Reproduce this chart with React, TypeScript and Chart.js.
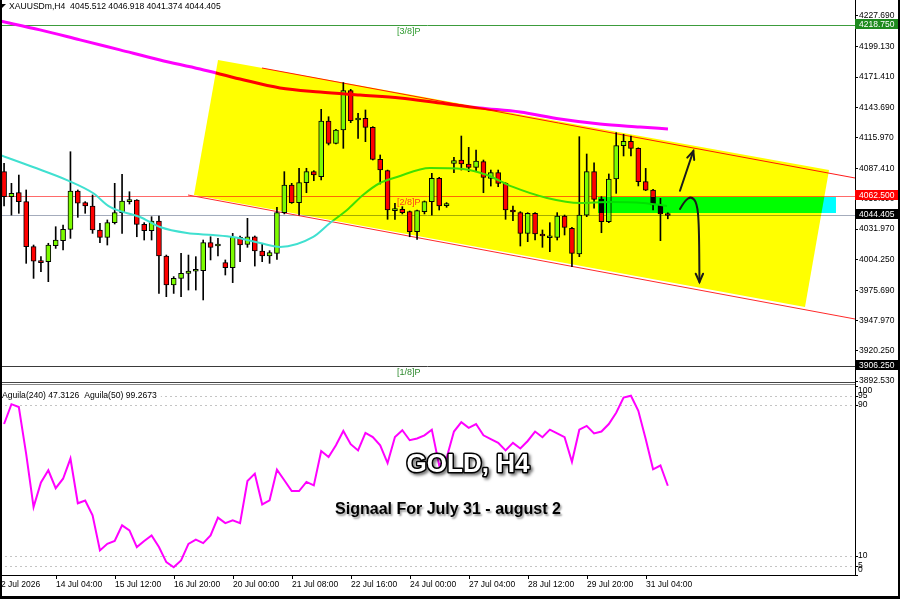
import React, { useEffect, useRef } from "react";
import { Chart, registerables } from "chart.js";

Chart.register(...registerables);

const FONT = "'Liberation Sans', Arial, sans-serif";

// ---- candle data (XAUUSDm, H4) ----
const opens = [4084.6, 4061.7, 4065.3, 4057.1, 4015.8, 4002.6, 4002.0, 4016.7, 4021.3, 4031.7,
  4066.9, 4056.2, 4053.1, 4031.1, 4024.3, 4037.8, 4047.0, 4057.1, 4058.6, 4036.3,
  4030.5, 4039.3, 4007.2, 3980.6, 3986.7, 3991.3, 3993.2, 3993.8, 4019.5, 4016.4,
  4001.1, 3996.5, 4024.3, 4017.9, 4024.9, 4011.8, 4007.2, 4009.7, 4047.0, 4072.4,
  4056.2, 4074.5, 4084.6, 4080.0, 4131.1, 4110.6, 4122.8, 4158.9, 4132.0, 4133.5,
  4125.3, 4095.9, 4085.5, 4048.8, 4050.0, 4047.9, 4029.5, 4047.9, 4057.1, 4078.5,
  4053.4, 4092.2, 4095.3, 4091.6, 4088.6, 4093.8, 4078.5, 4083.7, 4073.9, 4049.4,
  4047.0, 4028.0, 4046.4, 4026.5, 4024.0, 4024.3, 4043.9, 4032.6, 4009.1, 4044.8,
  4084.6, 4059.5, 4038.7, 4077.9, 4108.5, 4112.4, 4106.0, 4075.4, 4067.8, 4054.0,
  4045.512];
const highs = [4092.2, 4073.9, 4081.5, 4067.8, 4017.3, 4006.6, 4018.9, 4034.1, 4035.7, 4102.9,
  4067.8, 4057.1, 4063.2, 4037.2, 4040.3, 4073.9, 4082.2, 4066.2, 4058.9, 4037.8,
  4043.3, 4043.9, 4008.1, 3988.3, 4009.7, 4008.1, 4006.6, 4021.9, 4024.9, 4023.4,
  4003.6, 4028.0, 4025.6, 4041.8, 4025.6, 4018.2, 4012.1, 4051.9, 4084.6, 4073.9,
  4087.7, 4087.7, 4085.5, 4141.8, 4135.0, 4123.4, 4166.3, 4160.1, 4138.1, 4141.2,
  4125.9, 4099.9, 4086.1, 4055.5, 4052.5, 4048.5, 4049.4, 4057.7, 4083.1, 4079.4,
  4056.2, 4097.8, 4117.3, 4106.9, 4104.5, 4095.3, 4086.1, 4086.1, 4074.5, 4053.1,
  4047.9, 4047.0, 4047.0, 4031.1, 4037.8, 4047.0, 4044.8, 4033.5, 4116.7, 4100.8,
  4092.8, 4061.7, 4082.5, 4120.4, 4118.9, 4117.3, 4106.5, 4087.6, 4068.4, 4060.1,
  4046.918];
const lows = [4053.1, 4044.8, 4046.4, 4000.5, 3986.7, 3992.9, 3983.7, 4014.2, 4012.7, 4023.4,
  4042.7, 4046.4, 4028.0, 4019.5, 4017.3, 4036.6, 4028.0, 4054.9, 4024.9, 4021.9,
  4021.9, 3972.9, 3969.9, 3972.9, 3969.9, 3976.0, 3976.0, 3966.9, 4003.6, 4007.2,
  3989.8, 3982.8, 4002.0, 4015.2, 3998.0, 4002.0, 4000.5, 4004.2, 4045.8, 4055.5,
  4044.8, 4065.3, 4076.3, 4077.0, 4109.1, 4110.0, 4106.0, 4129.6, 4115.2, 4112.1,
  4095.3, 4073.3, 4040.9, 4040.9, 4045.8, 4024.9, 4022.5, 4045.8, 4044.8, 4049.4,
  4051.9, 4083.7, 4086.1, 4084.6, 4084.6, 4065.3, 4071.4, 4070.8, 4040.9, 4039.6,
  4016.4, 4020.4, 4021.9, 4015.2, 4011.2, 4021.9, 4026.5, 3997.4, 4006.6, 4043.3,
  4051.0, 4028.6, 4037.8, 4064.7, 4099.0, 4099.0, 4071.5, 4067.2, 4049.4, 4021.3,
  4041.374];
const closes = [4061.7, 4064.7, 4057.1, 4015.8, 4002.6, 4001.1, 4017.3, 4021.9, 4031.7, 4066.9,
  4055.6, 4053.1, 4031.1, 4024.3, 4037.8, 4047.0, 4057.7, 4058.6, 4036.3, 4030.5,
  4039.3, 4007.2, 3980.6, 3986.7, 3991.3, 3993.5, 3993.8, 4019.5, 4015.2, 4017.9,
  3996.5, 4024.3, 4017.3, 4024.9, 4011.8, 4007.2, 4010.3, 4047.0, 4072.4, 4056.2,
  4074.5, 4084.6, 4081.5, 4131.1, 4110.6, 4122.8, 4158.9, 4131.4, 4133.5, 4125.3,
  4095.9, 4086.1, 4049.4, 4050.0, 4047.0, 4029.5, 4048.8, 4057.1, 4078.5, 4053.1,
  4054.0, 4094.7, 4091.6, 4088.6, 4094.4, 4079.4, 4083.7, 4073.9, 4049.4, 4047.6,
  4028.0, 4046.4, 4027.4, 4025.6, 4025.6, 4043.9, 4033.5, 4009.7, 4044.8, 4084.6,
  4059.2, 4038.7, 4077.9, 4108.5, 4112.4, 4106.0, 4075.4, 4067.6, 4054.0, 4045.8,
  4044.405];

// slow moving average (bar index, price)
const maSlowIdx = [-0.55, 4.87, 10.3, 15.72, 21.14, 26.57, 31.99, 37.41, 42.84, 48.26, 53.69, 59.11, 64.53, 69.96, 75.38, 80.8, 86.23, 90.02];
const maSlowVal = [4222.8, 4214.7, 4205.5, 4196.3, 4187.1, 4178.8, 4169.6, 4161.4, 4157.7, 4154.9, 4152.2, 4147.6, 4143.0, 4139.3, 4132.9, 4128.3, 4125.6, 4123.8];
// fast moving average (bar index, price)
const maFastIdx = [-0.55, 3.92, 8.53, 12.06, 14.36, 18.43, 21.14, 24.8, 28.33, 31.04, 34.7, 37.41, 41.92, 44.19, 46.5, 48.67, 50.97, 53.28, 57.75, 62.23, 65.48, 69.0, 73.62, 78.1, 82.16, 86.64, 89.9];
const maFastVal = [4099.9, 4088.9, 4076.9, 4065.0, 4052.2, 4043.0, 4033.8, 4028.3, 4026.5, 4024.7, 4019.1, 4015.5, 4024.7, 4037.5, 4049.4, 4063.2, 4074.2, 4079.7, 4088.0, 4087.1, 4081.6, 4070.6, 4060.5, 4055.9, 4056.8, 4055.9, 4053.2];

// Aguila(240) oscillator, one value per bar
const aguila240 = [80, 90.5, 89, 64, 36, 49, 55.5, 46, 51, 61.7,
  38, 39.5, 31.6, 13, 16.5, 18, 26.3, 23.6, 14.8, 18,
  21, 14.8, 6.8, 4.1, 7.7, 16.5, 18.7, 16.9, 21, 30.4,
  27.5, 29, 27.5, 49.8, 53.7, 37.4, 39.5, 55.8, 50.2, 44.5,
  44.5, 49.3, 47.5, 65.7, 62.5, 68.7, 76.3, 69.3, 66, 75.3,
  73.1, 68.7, 59.3, 73.1, 76.7, 71.4, 72.3, 74, 77, 58,
  62, 76, 81, 78, 80, 74, 72, 70, 66, 70,
  67, 71, 76, 73, 77, 75, 73, 60, 77, 79,
  75, 76, 80, 86, 94, 95, 87, 72, 56, 58,
  47.3];

// axis ticks
const priceTicks = [4227.69, 4199.13, 4171.41, 4143.69, 4115.97, 4087.41, 4059.69, 4031.97, 4004.25, 3975.69, 3947.97, 3920.25, 3892.53];
const levelTicks = [100, 95, 90, 10, 5, 0];
const dashedLevels = [95, 90, 10, 5];
const timeTickIdx = [-0.55, 7, 15, 23, 31, 39, 47, 55, 63, 71, 79, 87];
const timeTickLabels = ["2 Jul 2026", "14 Jul 04:00", "15 Jul 12:00", "16 Jul 20:00", "20 Jul 00:00", "21 Jul 08:00", "22 Jul 16:00", "24 Jul 00:00", "27 Jul 04:00", "28 Jul 12:00", "29 Jul 20:00", "31 Jul 04:00"];

// Murrey math levels
const murreyPrices = [4218.75, 4062.5, 3906.25];
const murreyNames = ["[3/8]P", "[2/8]P", "[1/8]P"];
const murreyLabelIdx = 53.28;

// drawn objects (bar index, price)
const channelIdx = [29.01, 111.86, 108.6, 25.75];
const channelPrice = [4187.04, 4086.13, 3960.44, 4063.19];
const upperLineIdx = [34.97, 115.38];
const upperLinePrice = [4179.7, 4078.79];
const lowerLineIdx = [24.94, 115.38];
const lowerLinePrice = [4063.19, 3949.43];
const zoneIdx = [80.53, 112.8];
const zonePrice = [4061.36, 4046.68];
const arrowUpIdx = [91.65, 93.46];
const arrowUpPrice = [4067.1, 4103.6];
const arrowDownIdx = [91.65, 92.33, 93.21, 93.96, 94.23, 94.29];
const arrowDownPrice = [4050.4, 4058.6, 4061.8, 4055.9, 4035.7, 3983.4];

const X_MIN = -0.552;
const X_MAX = 115.38;
const Y_MIN = 3714.57;
const Y_MAX = 4242.09;
const Y2_MAX = 304.64;
const PANEL_SPLIT_LEVEL = 102.3;

export default function App() {
  const ref = useRef<HTMLCanvasElement>(null);

  useEffect(() => {
    document.body.style.margin = "0";
    const canvas = ref.current!;
    const idx = closes.map((_, i) => i);
    const bodyColors = idx.map((i) => (closes[i] >= opens[i] ? "#7CFC00" : "#FF0000"));

    const overlay = {
      id: "overlay",
      beforeDraw(chart: any) {
        const { ctx } = chart;
        ctx.save();
        ctx.fillStyle = "#ffffff";
        ctx.fillRect(0, 0, chart.width, chart.height);
        ctx.restore();
      },
      beforeDatasetsDraw(chart: any) {
        const { ctx, chartArea: ca } = chart;
        const xs = chart.scales.x, ys = chart.scales.y, y2 = chart.scales.y2;
        const split = y2.getPixelForValue(PANEL_SPLIT_LEVEL);
        ctx.save();
        ctx.beginPath();
        ctx.rect(ca.left, 0, ca.right - ca.left, split);
        ctx.clip();
        const hline = (p: number, color: string) => {
          const y = Math.round(ys.getPixelForValue(p)) + 0.5;
          ctx.strokeStyle = color;
          ctx.lineWidth = 1;
          ctx.beginPath();
          ctx.moveTo(ca.left, y);
          ctx.lineTo(ca.right, y);
          ctx.stroke();
        };
        hline(murreyPrices[0], "#3C9C3C");
        hline(murreyPrices[1], "#FF6A6A");
        hline(murreyPrices[2], "#3a3a3a");
        hline(closes[closes.length - 1], "#A4ACBC");
        const seg = (ix: number[], pr: number[], color: string) => {
          ctx.strokeStyle = color;
          ctx.lineWidth = 1;
          ctx.beginPath();
          ctx.moveTo(xs.getPixelForValue(ix[0]), ys.getPixelForValue(pr[0]));
          ctx.lineTo(xs.getPixelForValue(ix[1]), ys.getPixelForValue(pr[1]));
          ctx.stroke();
        };
        seg(upperLineIdx, upperLinePrice, "#FF1A1A");
        seg(lowerLineIdx, lowerLinePrice, "#FF2A2A");
        ctx.restore();

        // lower panel dashed levels
        ctx.save();
        ctx.strokeStyle = "#C4C4C4";
        ctx.lineWidth = 1;
        ctx.setLineDash([2, 3]);
        dashedLevels.forEach((v) => {
          const y = Math.round(y2.getPixelForValue(v)) + 0.5;
          ctx.beginPath();
          ctx.moveTo(ca.left, y);
          ctx.lineTo(ca.right, y);
          ctx.stroke();
        });
        ctx.restore();
      },
      afterDatasetsDraw(chart: any) {
        const { ctx, chartArea: ca } = chart;
        const xs = chart.scales.x, ys = chart.scales.y, y2 = chart.scales.y2;
        const split = y2.getPixelForValue(PANEL_SPLIT_LEVEL);
        const X = (i: number) => xs.getPixelForValue(i);
        const Y = (p: number) => ys.getPixelForValue(p);

        // channel & zone, multiplied over what is beneath
        ctx.save();
        ctx.beginPath();
        ctx.rect(ca.left, 0, ca.right - ca.left, split);
        ctx.clip();
        ctx.globalCompositeOperation = "multiply";
        ctx.fillStyle = "#FFFF00";
        ctx.beginPath();
        channelIdx.forEach((ix, k) => {
          const px = X(ix), py = Y(channelPrice[k]);
          if (k === 0) ctx.moveTo(px, py); else ctx.lineTo(px, py);
        });
        ctx.closePath();
        ctx.fill();
        ctx.fillStyle = "#00FFFF";
        const zx0 = X(zoneIdx[0]), zx1 = X(zoneIdx[1]);
        const zy0 = Y(zonePrice[0]), zy1 = Y(zonePrice[1]);
        ctx.fillRect(zx0, zy0, zx1 - zx0, zy1 - zy0);
        ctx.globalCompositeOperation = "source-over";

        // murrey labels
        ctx.font = `9px ${FONT}`;
        ctx.textAlign = "left";
        ctx.textBaseline = "top";
        const lblColors = ["#2E9A2E", "#FF3A1A", "#2E8A2E"];
        murreyPrices.forEach((p, k) => {
          ctx.fillStyle = lblColors[k];
          ctx.fillText(murreyNames[k], X(murreyLabelIdx), Math.round(Y(p)) + 2);
        });

        // arrows
        ctx.strokeStyle = "#1a1a1a";
        ctx.fillStyle = "#1a1a1a";
        ctx.lineWidth = 2;
        ctx.lineCap = "round";
        const head = (fx: number, fy: number, tx: number, ty: number) => {
          const a = Math.atan2(ty - fy, tx - fx);
          const L = 9, w = 0.42;
          ctx.beginPath();
          ctx.moveTo(tx - L * Math.cos(a - w), ty - L * Math.sin(a - w));
          ctx.lineTo(tx, ty);
          ctx.lineTo(tx - L * Math.cos(a + w), ty - L * Math.sin(a + w));
          ctx.stroke();
        };
        const ux0 = X(arrowUpIdx[0]), uy0 = Y(arrowUpPrice[0]);
        const ux1 = X(arrowUpIdx[1]), uy1 = Y(arrowUpPrice[1]);
        ctx.beginPath();
        ctx.moveTo(ux0, uy0);
        ctx.lineTo(ux1, uy1);
        ctx.stroke();
        head(ux0, uy0, ux1, uy1);
        const pts = arrowDownIdx.map((ix, k) => [X(ix), Y(arrowDownPrice[k])]);
        ctx.beginPath();
        ctx.moveTo(pts[0][0], pts[0][1]);
        for (let k = 1; k < pts.length - 1; k++) {
          const mx = (pts[k][0] + pts[k + 1][0]) / 2;
          const my = (pts[k][1] + pts[k + 1][1]) / 2;
          ctx.quadraticCurveTo(pts[k][0], pts[k][1], mx, my);
        }
        const last = pts[pts.length - 1];
        const prev = pts[pts.length - 2];
        ctx.lineTo(last[0], last[1]);
        ctx.stroke();
        head(prev[0], prev[1], last[0], last[1]);
        ctx.restore();

        // top-left header
        ctx.save();
        ctx.fillStyle = "#000";
        ctx.beginPath();
        ctx.moveTo(1, 4);
        ctx.lineTo(6, 4);
        ctx.lineTo(1, 9);
        ctx.closePath();
        ctx.fill();
        ctx.font = `8.6px ${FONT}`;
        ctx.textAlign = "left";
        ctx.textBaseline = "middle";
        const hdr = `XAUUSDm,H4  ${opens[opens.length - 1].toFixed(3)} ${highs[highs.length - 1].toFixed(3)} ${lows[lows.length - 1].toFixed(3)} ${closes[closes.length - 1].toFixed(3)}`;
        ctx.fillText(hdr, 9, 7);

        // lower panel header
        const subTxt = "Aguila(240) 47.3126  Aguila(50) 99.2673";
        const tw = ctx.measureText(subTxt).width;
        const hy = y2.getPixelForValue(95);
        ctx.fillStyle = "#fff";
        ctx.fillRect(2, hy - 6, tw + 4, 11);
        ctx.fillStyle = "#000";
        ctx.fillText(subTxt, 2, hy);

        // title texts
        ctx.textAlign = "center";
        ctx.font = `bold 26px ${FONT}`;
        ctx.lineJoin = "round";
        ctx.shadowColor = "rgba(0,0,0,0.55)";
        ctx.shadowOffsetX = 2;
        ctx.shadowOffsetY = 2;
        ctx.shadowBlur = 3;
        ctx.lineWidth = 3;
        ctx.strokeStyle = "#000";
        ctx.strokeText("GOLD, H4", 468, 465);
        ctx.shadowColor = "transparent";
        ctx.fillStyle = "#fff";
        ctx.fillText("GOLD, H4", 468, 465);

        ctx.font = `bold 16px ${FONT}`;
        ctx.shadowColor = "rgba(0,0,0,0.4)";
        ctx.shadowOffsetX = 1.5;
        ctx.shadowOffsetY = 1.5;
        ctx.shadowBlur = 2;
        ctx.fillStyle = "#000";
        ctx.fillText("Signaal For July 31 - august 2", 448, 510);
        ctx.restore();
      },
      afterDraw(chart: any) {
        const { ctx, chartArea: ca } = chart;
        const xs = chart.scales.x, ys = chart.scales.y, y2 = chart.scales.y2;
        const split = y2.getPixelForValue(PANEL_SPLIT_LEVEL);
        ctx.save();
        ctx.font = `8.5px ${FONT}`;
        ctx.textAlign = "left";
        ctx.textBaseline = "middle";

        // axis value boxes
        const box = (p: number, bg: string) => {
          const y = Math.round(ys.getPixelForValue(p)) - 1;
          ctx.fillStyle = bg;
          ctx.fillRect(ca.right, y - 5, 43, 10);
          ctx.fillStyle = "#fff";
          ctx.fillText(p.toFixed(3), ca.right + 4, y + 0.5);
        };
        box(murreyPrices[0], "#1E8A1E");
        box(murreyPrices[1], "#FF0000");
        box(closes[closes.length - 1], "#000000");
        box(murreyPrices[2], "#000000");

        // lower panel scale
        ctx.fillStyle = "#000";
        levelTicks.forEach((v) => {
          const yp = y2.getPixelForValue(v);
          const ty = Math.min(Math.max(yp, split + 9), ca.bottom - 5);
          ctx.fillRect(ca.right, Math.round(yp), 3, 1);
          ctx.fillText(String(v), ca.right + 3, ty);
        });

        // panel separators
        ctx.fillStyle = "#444";
        ctx.fillRect(0, Math.round(split), ca.right, 1);
        ctx.fillStyle = "#888";
        ctx.fillRect(0, Math.round(split) + 2, ca.right, 1);

        // time axis
        ctx.fillStyle = "#000";
        ctx.fillRect(0, ca.bottom, ca.right + 1, 1);
        ctx.textBaseline = "middle";
        timeTickIdx.forEach((ix, k) => {
          const px = Math.round(xs.getPixelForValue(ix));
          ctx.fillRect(px, ca.bottom + 1, 1, 3);
          ctx.fillText(timeTickLabels[k], Math.max(px, 1), ca.bottom + 10);
        });

        // frame
        ctx.fillStyle = "#000";
        ctx.fillRect(0, 0, 2, chart.height);
        ctx.fillRect(chart.width - 2, 0, 2, chart.height);
        ctx.fillRect(0, chart.height - 3, chart.width, 3);
        ctx.restore();
      },
    };

    const chart = new Chart(canvas, {
      type: "bar",
      data: {
        datasets: [
          {
            type: "bar",
            data: idx.map((i) => ({ x: i, y: [lows[i], highs[i]] })) as any,
            backgroundColor: "#000000",
            barThickness: 1,
            grouped: false,
            order: 4,
            xAxisID: "x",
            yAxisID: "y",
          } as any,
          {
            type: "bar",
            data: idx.map((i) => ({ x: i, y: [opens[i], closes[i]] })) as any,
            backgroundColor: bodyColors,
            borderColor: "#000000",
            borderWidth: 1,
            borderSkipped: false,
            barThickness: 5,
            minBarLength: 2,
            grouped: false,
            order: 3,
            xAxisID: "x",
            yAxisID: "y",
          } as any,
          {
            type: "line",
            data: maSlowIdx.map((x, k) => ({ x, y: maSlowVal[k] })),
            borderColor: "#FF00FF",
            borderWidth: 3,
            pointRadius: 0,
            cubicInterpolationMode: "monotone",
            order: 2,
            xAxisID: "x",
            yAxisID: "y",
          } as any,
          {
            type: "line",
            data: maFastIdx.map((x, k) => ({ x, y: maFastVal[k] })),
            borderColor: "#40E0D0",
            borderWidth: 2,
            pointRadius: 0,
            cubicInterpolationMode: "monotone",
            order: 2,
            xAxisID: "x",
            yAxisID: "y",
          } as any,
          {
            type: "line",
            data: aguila240.map((v, i) => ({ x: i, y: v })),
            borderColor: "#FF00FF",
            borderWidth: 2,
            pointRadius: 0,
            tension: 0,
            order: 1,
            xAxisID: "x",
            yAxisID: "y2",
          } as any,
        ],
      },
      options: {
        responsive: false,
        animation: false,
        devicePixelRatio: 1,
        events: [],
        layout: { padding: { left: 0, right: 0, top: 0, bottom: 24 } },
        plugins: { legend: { display: false }, tooltip: { enabled: false } },
        scales: {
          x: { type: "linear", min: X_MIN, max: X_MAX, offset: false, display: false, grid: { offset: false } },
          y: {
            type: "linear",
            position: "right",
            min: Y_MIN,
            max: Y_MAX,
            afterFit: (s: any) => {
              s.width = 45;
              s.paddingTop = 0;
              s.paddingBottom = 0;
            },
            afterBuildTicks: (s: any) => {
              s.ticks = priceTicks.map((v) => ({ value: v }));
            },
            ticks: {
              autoSkip: false,
              padding: 1,
              color: "#000",
              font: { family: FONT, size: 8.5 },
              callback: (v: any) => Number(v).toFixed(3),
            },
            grid: { drawOnChartArea: false, tickLength: 3, color: "#000" },
            border: { display: true, color: "#000", width: 1 },
          },
          y2: { type: "linear", display: false, min: 0, max: Y2_MAX },
        },
      } as any,
      plugins: [overlay],
    });
    return () => chart.destroy();
  }, []);

  return <canvas ref={ref} width={900} height={599} style={{ display: "block" }} />;
}
